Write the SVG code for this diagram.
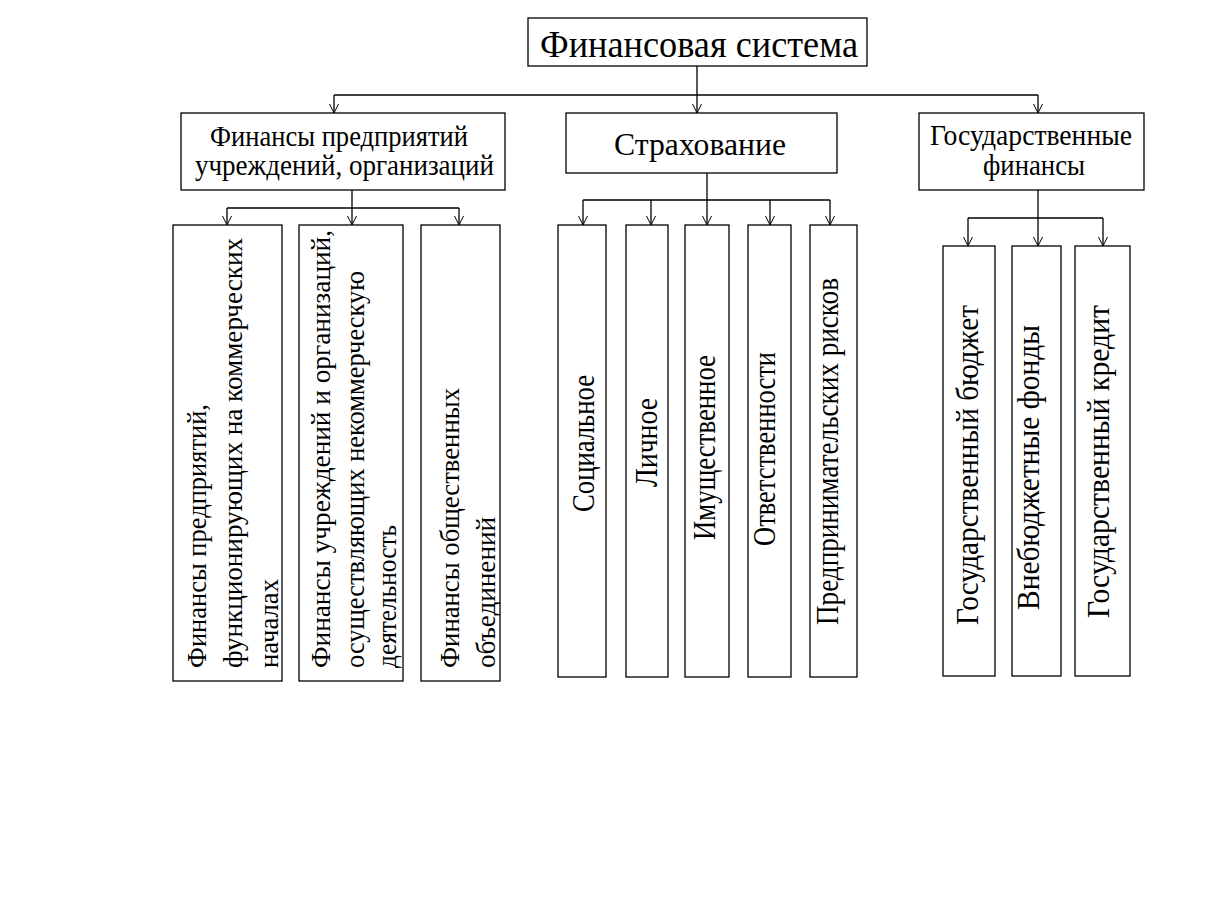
<svg xmlns="http://www.w3.org/2000/svg" width="1208" height="909" viewBox="0 0 1208 909">
<defs>
<marker id="arr" markerUnits="userSpaceOnUse" markerWidth="14" markerHeight="14" viewBox="-10 -7 12 14" refX="0" refY="0" orient="auto">
<path d="M-9,-4.5 L0,0 L-9,4.5" fill="none" stroke="#000" stroke-width="1"/>
</marker>
<style>
rect{fill:#fff;stroke:#000;stroke-width:1.3}
text{font-family:"Liberation Serif","Times New Roman",serif;fill:#000}
.c{text-anchor:middle}
.l{stroke:#000;stroke-width:1.3;fill:none}
.a{marker-end:url(#arr)}
.h{font-size:29px}
.v{font-size:28px}
.s{font-size:32px}
</style>
</defs>
<rect x="0" y="0" width="1208" height="909" style="fill:#fff;stroke:none"/>
<g id="connectors">
<path class="l" d="M697,66 V95"/>
<path class="l" d="M334,95 H1038"/>
<path class="l a" d="M334,95 V113"/>
<path class="l a" d="M697,95 V113"/>
<path class="l a" d="M1038,95 V113"/>
<path class="l" d="M352,190 V208"/>
<path class="l" d="M227,208 H459"/>
<path class="l a" d="M227,208 V225"/>
<path class="l a" d="M352,208 V225"/>
<path class="l a" d="M459,208 V225"/>
<path class="l" d="M707,173 V200"/>
<path class="l" d="M583,200 H830"/>
<path class="l a" d="M583,200 V225"/>
<path class="l a" d="M651,200 V225"/>
<path class="l a" d="M707,200 V225"/>
<path class="l a" d="M770,200 V225"/>
<path class="l a" d="M830,200 V225"/>
<path class="l" d="M1038,190 V218"/>
<path class="l" d="M968,218 H1103"/>
<path class="l a" d="M968,218 V246"/>
<path class="l a" d="M1038,218 V246"/>
<path class="l a" d="M1103,218 V246"/>
</g>
<g id="n-root">
<rect x="528" y="18" width="339" height="48"/>
<text x="540" y="57" font-size="38" textLength="318" lengthAdjust="spacingAndGlyphs">Финансовая система</text>
</g>
<g id="n-firms">
<rect x="181" y="113" width="324" height="77"/>
<text class="h" x="210" y="146" textLength="258" lengthAdjust="spacingAndGlyphs">Финансы предприятий</text>
<text class="h" x="195" y="175" textLength="299" lengthAdjust="spacingAndGlyphs">учреждений, организаций</text>
</g>
<g id="n-insurance">
<rect x="566" y="113" width="271" height="60"/>
<text x="614" y="155" font-size="31" textLength="172" lengthAdjust="spacingAndGlyphs">Страхование</text>
</g>
<g id="n-state">
<rect x="919" y="113" width="225" height="77"/>
<text class="h" x="930" y="145" textLength="202" lengthAdjust="spacingAndGlyphs">Государственные</text>
<text class="h" x="983" y="175" textLength="102" lengthAdjust="spacingAndGlyphs">финансы</text>
</g>
<g id="n-f1">
<rect x="173" y="225" width="109" height="456"/>
<g transform="translate(0,668) rotate(-90)">
<text class="v" x="0" y="206" textLength="264" lengthAdjust="spacingAndGlyphs">Финансы предприятий,</text>
<text class="v" x="0" y="242" textLength="430" lengthAdjust="spacingAndGlyphs">функционирующих на коммерческих</text>
<text class="v" x="0" y="278" textLength="89" lengthAdjust="spacingAndGlyphs">началах</text>
</g>
</g>
<g id="n-f2">
<rect x="299" y="225" width="104" height="456"/>
<g transform="translate(0,668) rotate(-90)">
<text class="v" x="0" y="330" textLength="438" lengthAdjust="spacingAndGlyphs">Финансы учреждений и организаций,</text>
<text class="v" x="0" y="364" textLength="397" lengthAdjust="spacingAndGlyphs">осуществляющих некоммерческую</text>
<text class="v" x="0" y="396" textLength="143" lengthAdjust="spacingAndGlyphs">деятельность</text>
</g>
</g>
<g id="n-f3">
<rect x="421" y="225" width="79" height="456"/>
<g transform="translate(0,668) rotate(-90)">
<text class="v" x="0" y="459" textLength="280" lengthAdjust="spacingAndGlyphs">Финансы общественных</text>
<text class="v" x="0" y="495" textLength="151" lengthAdjust="spacingAndGlyphs">объединений</text>
</g>
</g>
<g id="n-i1">
<rect x="558" y="225" width="48" height="452"/>
<text class="s" transform="translate(594,512) rotate(-90)" textLength="137" lengthAdjust="spacingAndGlyphs">Социальное</text>
</g>
<g id="n-i2">
<rect x="626" y="225" width="42" height="452"/>
<text class="s" transform="translate(657,487) rotate(-90)" textLength="89" lengthAdjust="spacingAndGlyphs">Личное</text>
</g>
<g id="n-i3">
<rect x="685" y="225" width="44" height="452"/>
<text class="s" transform="translate(715,540) rotate(-90)" textLength="185" lengthAdjust="spacingAndGlyphs">Имущественное</text>
</g>
<g id="n-i4">
<rect x="748" y="225" width="43" height="452"/>
<text class="s" transform="translate(775,546) rotate(-90)" textLength="194" lengthAdjust="spacingAndGlyphs">Ответственности</text>
</g>
<g id="n-i5">
<rect x="810" y="225" width="47" height="452"/>
<text class="s" transform="translate(838,625) rotate(-90)" textLength="347" lengthAdjust="spacingAndGlyphs">Предпринимательских рисков</text>
</g>
<g id="n-s1">
<rect x="943" y="246" width="52" height="430"/>
<text class="s" transform="translate(978,625) rotate(-90)" textLength="320" lengthAdjust="spacingAndGlyphs">Государственный бюджет</text>
</g>
<g id="n-s2">
<rect x="1012" y="246" width="49" height="430"/>
<text class="s" transform="translate(1039,610) rotate(-90)" textLength="285" lengthAdjust="spacingAndGlyphs">Внебюджетные фонды</text>
</g>
<g id="n-s3">
<rect x="1075" y="246" width="55" height="430"/>
<text class="s" transform="translate(1109,618) rotate(-90)" textLength="313" lengthAdjust="spacingAndGlyphs">Государственный кредит</text>
</g>
</svg>
